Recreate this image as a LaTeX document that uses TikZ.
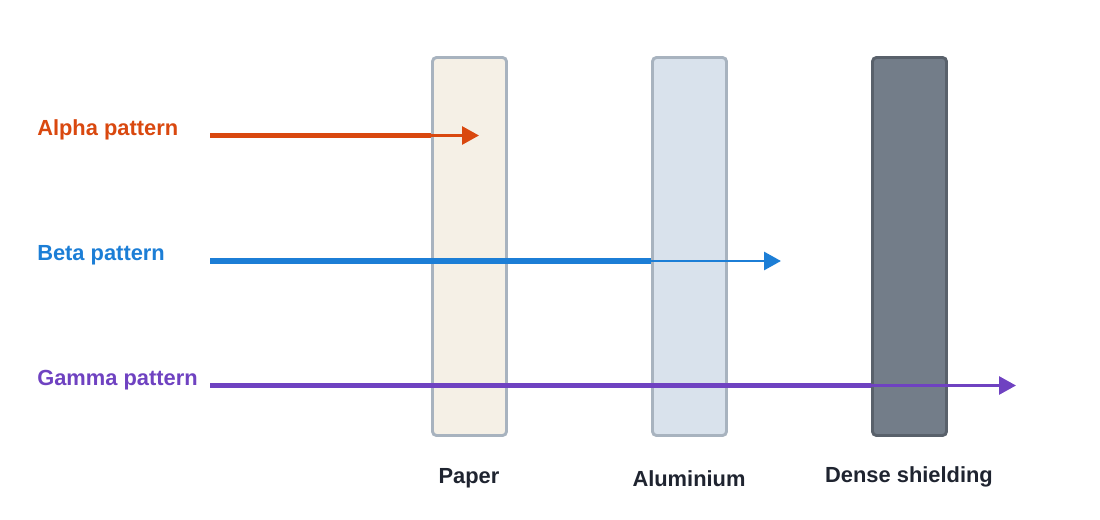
\documentclass[tikz,border=0pt]{standalone}
\usepackage{fontspec}
\setmainfont{Liberation Sans}
\usetikzlibrary{arrows.meta}
\definecolor{alphacol}{HTML}{D9480F}
\definecolor{betacol}{HTML}{1C7ED6}
\definecolor{gammacol}{HTML}{6F42C1}
\definecolor{edgecol}{HTML}{A8B3BF}
\definecolor{papercol}{HTML}{F5F0E6}
\definecolor{alucol}{HTML}{D9E2EC}
\definecolor{densecol}{HTML}{737D89}
\definecolor{denseedge}{HTML}{59616B}
\definecolor{textcol}{HTML}{1F2430}
\tikzset{%
  barrier/.style = {shape=rectangle, rounded corners=3pt,%
                    draw=edgecol, line width=2.2pt, inner sep=0pt,%
                    minimum width=55.5pt, minimum height=283.5pt},%
  ray/.style     = {font=\bfseries\fontsize{16.4}{19}\selectfont,%
                    inner sep=0pt, anchor=base west},%
  tag/.style     = {ray, text=textcol, anchor=base},%
  beam/.style    = {line width=4pt},%
  tail/.style    = {line width=2.2pt,%
                    -{Triangle[length=12.75pt,width=13.5pt]}}%
}
\begin{document}
\begin{tikzpicture}
  [x=0.75pt,y=-0.75pt]
  \useasboundingbox (0,0) rectangle (1100,520);
  % barriers
  \node [barrier, fill=papercol] (paper) at (469.5,246.5) {};
  \node [barrier, fill=alucol] (alu) at (689.5,246.5) {};
  \node [barrier, fill=densecol, draw=denseedge] (dense) at (909.5,246.5) {};
  \node [tag] (paperlbl) at (469,483) {Paper};
  \node [tag] (alulbl) at (689,486) {Aluminium};
  \node [tag] (denselbl) at (909,482) {Dense shielding};
  % radiation
  \node [ray, text=alphacol] (alphalbl) at (37,136) {Alpha pattern};
  \node [ray, text=betacol] (betalbl) at (37,261) {Beta pattern};
  \node [ray, text=gammacol] (gammalbl) at (37,386) {Gamma pattern};
  \coordinate (as) at (210,135.5);
  \coordinate (ae) at (479,135.5);
  \coordinate (bs) at (210,261);
  \coordinate (be) at (781,261);
  \coordinate (gs) at (210,385.5);
  \coordinate (ge) at (1016,385.5);
  \draw [beam, alphacol] (as) -- (as -| paper.west);
  \draw [tail, alphacol] (as -| paper.west) -- (ae);
  \draw [beam, betacol] (bs) -- (bs -| alu.west);
  \draw [tail, betacol] (bs -| alu.west) -- (be);
  \draw [beam, gammacol] (gs) -- (gs -| dense.west);
  \draw [tail, gammacol] (gs -| dense.west) -- (ge);
\end{tikzpicture}
\end{document}
